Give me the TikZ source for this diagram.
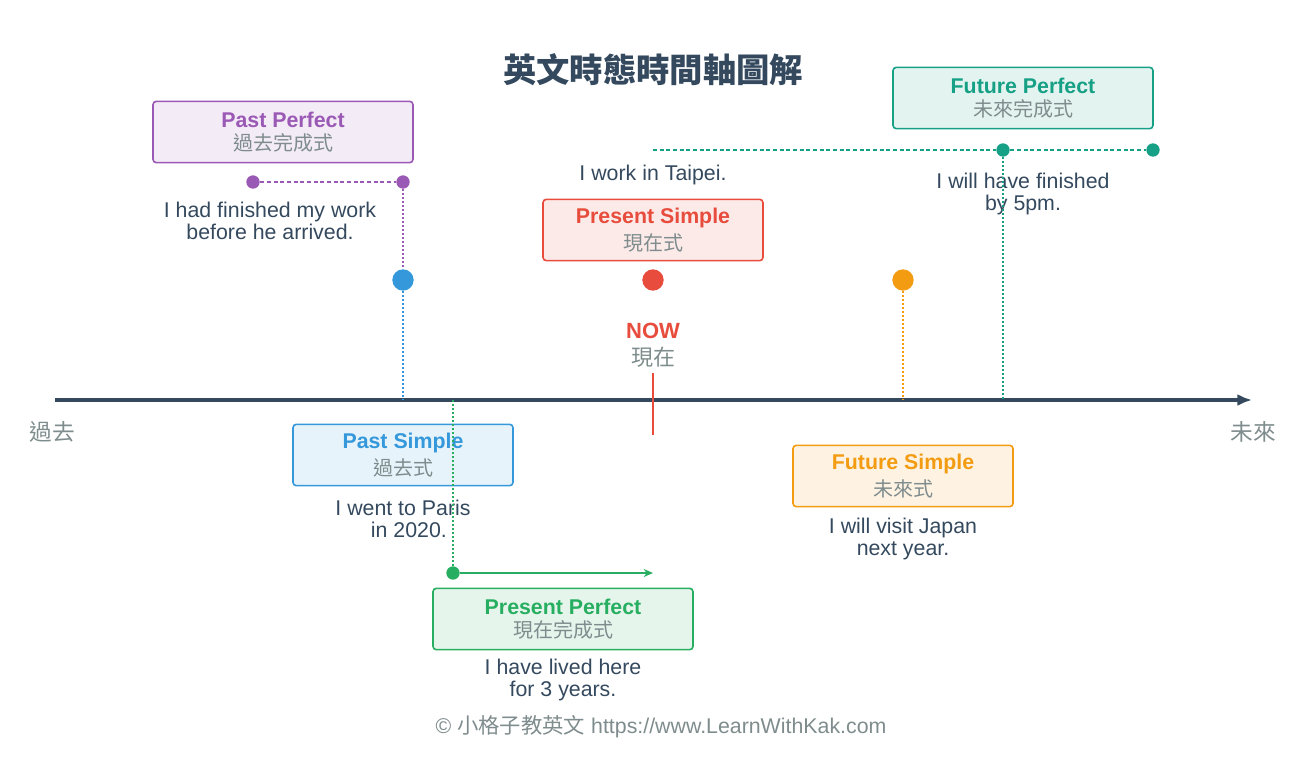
\documentclass[tikz,border=0pt]{standalone}
\usepackage{fontspec}
\setmainfont{Liberation Sans}
\newfontfamily\cjk{Noto Sans CJK TC}
\usetikzlibrary{arrows.meta}
\definecolor{ink}{HTML}{34495E}
\definecolor{greytxt}{HTML}{7F8C8D}
\definecolor{cpurple}{HTML}{9B59B6}
\definecolor{cblue}{HTML}{3498DB}
\definecolor{cred}{HTML}{E74C3C}
\definecolor{cgreen}{HTML}{27AE60}
\definecolor{corange}{HTML}{F39C12}
\definecolor{cteal}{HTML}{16A085}
\tikzset{every picture/.style={line width=0.75pt}}
\tikzset{
  tense/.style={draw=#1,fill=#1!12,rounded corners=2.5pt,line width=1.2pt,minimum width=165pt,minimum height=46pt,align=center,inner sep=0pt},
  wide/.style={minimum width=195pt},
  ex/.style={text=ink,font=\fontsize{16}{16.5}\selectfont,align=center,inner sep=0pt},
  dot/.style={circle,fill=#1,inner sep=0pt,minimum size=16pt},
  sdot/.style={circle,fill=#1,inner sep=0pt,minimum size=10pt},
  guide/.style={draw=#1,dash pattern=on 1.5pt off 1.5pt,line width=1pt},
  link/.style={draw=#1,dash pattern=on 3pt off 2pt,line width=1.8pt},
}
\newcommand{\tname}[3]{{\color{#1}\fontsize{16}{18}\selectfont\bfseries #2}\\[3pt]{\color{greytxt}\cjk\fontsize{15}{18}\selectfont #3}}
\begin{document}
\begin{tikzpicture}[x=0.75pt,y=0.75pt,yscale=-1,xscale=1]
\useasboundingbox (0,0) rectangle (1298,756);

% Title
\node (title) at (653,70) {\cjk\bfseries\fontsize{25}{28}\selectfont\color{ink}英文時態時間軸圖解};

% Axis
\coordinate (axL) at (55,400);
\coordinate (axR) at (1252,400);
\draw [ink,line width=2.3pt,-{Latex[length=11pt,width=9pt]}] (axL) -- (axR);
\node [text=greytxt,font=\cjk\fontsize{17}{18}\selectfont] (past) at (52,432) {過去};
\node [text=greytxt,font=\cjk\fontsize{17}{18}\selectfont] (future) at (1253,432) {未來};

% Now
\node [text=cred,font=\bfseries\fontsize{16.5}{17}\selectfont] (now) at (653,331) {NOW};
\node [text=greytxt,font=\cjk\fontsize{16.5}{17}\selectfont] (nowzh) at (653,357) {現在};
\coordinate (nowT) at (653,373);
\coordinate (nowB) at (653,435);
\draw [cred,line width=2.2pt] (nowT) -- (nowB);

% Past Perfect
\node [tense=cpurple,wide] (pp) at (283,132) {\tname{cpurple}{Past Perfect}{過去完成式}};
\node [sdot=cpurple] (ppA) at (253,182) {};
\node [sdot=cpurple] (ppB) at (403,182) {};
\draw [link=cpurple] (ppA) -- (ppB);
\node [ex] (ppEx) at (270,221) {I had finished my work\\before he arrived.};

% Past Simple
\node [dot=cblue] (ps) at (403,280) {};
\draw [guide=cpurple] (ppB) -- (ps);
\coordinate (psAx) at (403,400);
\draw [guide=cblue] (ps) -- (psAx);
\node [tense=cblue] (psBox) at (403,455) {\tname{cblue}{Past Simple}{過去式}};
\node [ex] (psEx) at (403,519) {I went to Paris\\\ \ in 2020.};

% Present Simple
\node [ex] (prEx) at (653,175) {I work in Taipei.};
\node [tense=cred] (prBox) at (653,230) {\tname{cred}{Present Simple}{現在式}};
\node [dot=cred] (pr) at (653,280) {};

% Future Perfect
\node [tense=cteal,wide] (fpBox) at (1023,98) {\tname{cteal}{Future Perfect}{未來完成式}};
\coordinate (fpS) at (653,150);
\node [sdot=cteal] (fpA) at (1003,150) {};
\node [sdot=cteal] (fpB) at (1153,150) {};
\draw [link=cteal] (fpS) -- (fpA) -- (fpB);
\node [ex] (fpEx) at (1023,194) {I will have finished\\by 5pm.};
\coordinate (fpAx) at (1003,400);
\draw [guide=cteal] (fpA) -- (fpAx);

% Future Simple
\node [dot=corange] (fs) at (903,280) {};
\coordinate (fsAx) at (903,400);
\draw [guide=corange] (fs) -- (fsAx);
\node [tense=corange] (fsBox) at (903,476) {\tname{corange}{Future Simple}{未來式}};
\node [ex] (fsEx) at (903,539) {I will visit Japan\\next year.};

% Present Perfect
\coordinate (pfAx) at (453,400);
\node [sdot=cgreen] (pfA) at (453,573) {};
\coordinate (pfB) at (653,573);
\draw [guide=cgreen] (pfAx) -- (pfA);
\draw [cgreen,line width=2.2pt,-{Stealth[length=7pt,width=6pt]}] (pfA) -- (pfB);
\node [tense=cgreen,wide] (pfBox) at (563,619) {\tname{cgreen}{Present Perfect}{現在完成式}};
\node [ex] (pfEx) at (563,680) {I have lived here\\for 3 years.};

% Footer
\node [text=greytxt,font=\fontsize{16}{17}\selectfont] (foot) at (661,727) {© {\cjk 小格子教英文} https://www.LearnWithKak.com};
\end{tikzpicture}
\end{document}
